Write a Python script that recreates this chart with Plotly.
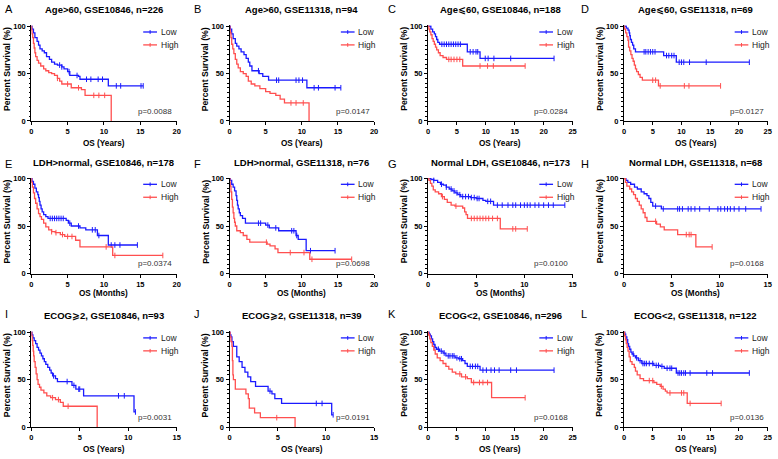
import plotly.graph_objects as go

W, H = 778, 459

# ---------------- data (times, survival %, censor times) ----------------
A_low_t = [0, 0.1, 0.3, 0.5, 0.8, 1.0, 1.2, 1.5, 1.8, 2.1, 2.5, 2.8, 3.2, 3.6, 4.2, 4.5, 5.0, 5.3, 6.5, 6.7, 10.6, 15.4]
A_low_s = [100, 97, 93, 88, 84, 80, 76, 74, 72, 68, 65, 62, 60, 59, 57, 55, 52, 48, 47, 44, 37, 37]
A_low_c = [3.9, 4.2, 5.2, 6.3, 7.6, 8.2, 9.2, 9.8, 11.7, 12.3, 15.1, 15.4]
A_high_t = [0, 0.05, 0.1, 0.2, 0.3, 0.4, 0.5, 0.6, 0.8, 1.0, 1.3, 1.7, 2.0, 2.4, 2.8, 3.2, 3.6, 3.9, 4.2, 5.5, 6.9, 7.4, 11.0]
A_high_s = [100, 96, 92, 88, 82, 77, 72, 68, 64, 61, 58, 55, 53, 51, 50, 48, 45, 42, 39, 35, 33, 27, 0]
A_high_c = [3.6, 5.0, 6.5, 8.6, 9.3, 10.1]

B_low_t = [0, 0.1, 0.3, 0.5, 0.8, 1.0, 1.3, 1.6, 2.0, 2.3, 2.6, 2.8, 3.1, 4.1, 4.6, 5.4, 10.7, 15.4]
B_low_s = [100, 97, 92, 87, 82, 79, 76, 73, 70, 66, 62, 58, 53, 50, 47, 43, 35, 35]
B_low_c = [4.0, 6.5, 6.8, 9.2, 9.6, 10.1, 11.7, 12.3, 14.6, 15.4]
B_high_t = [0, 0.05, 0.1, 0.2, 0.3, 0.45, 0.6, 0.8, 1.0, 1.2, 1.5, 1.9, 2.3, 2.6, 3.0, 3.5, 4.2, 5.0, 5.6, 6.4, 7.0, 7.6, 11.0]
B_high_s = [100, 96, 93, 88, 81, 76, 71, 65, 60, 56, 52, 50, 47, 42, 39, 37, 34, 31, 29, 27, 23, 19, 0]
B_high_c = [8.5, 9.2, 10.2]

C_low_t = [0, 0.5, 0.8, 1.1, 1.3, 1.5, 1.7, 2.0, 6.8, 9.0, 21.8]
C_low_s = [100, 97, 94, 92, 89, 86, 83, 81, 73, 66, 66]
C_low_c = [2.4, 2.8, 3.2, 3.6, 4.0, 4.4, 4.8, 5.2, 5.6, 7.3, 7.8, 8.3, 8.6, 9.9, 10.4, 11.4, 14.3, 21.8]
C_high_t = [0, 0.15, 0.3, 0.5, 0.7, 0.9, 1.1, 1.3, 1.5, 1.8, 2.1, 2.6, 3.2, 6.0, 16.8]
C_high_s = [100, 97, 94, 91, 87, 84, 81, 78, 75, 72, 69, 67, 65, 58, 58]
C_high_c = [3.6, 4.0, 4.5, 5.0, 5.5, 9.0, 10.3, 11.3, 16.8]

D_low_t = [0, 0.4, 0.7, 0.9, 1.0, 1.1, 1.3, 1.5, 1.7, 2.0, 6.9, 9.1, 21.8]
D_low_s = [100, 98, 96, 93, 90, 86, 83, 80, 76, 73, 69, 62, 62]
D_low_c = [3.5, 3.8, 4.2, 4.6, 5.0, 5.4, 7.4, 7.8, 8.3, 8.7, 9.6, 10.0, 10.4, 11.4, 14.3, 21.8]
D_high_t = [0, 0.1, 0.3, 0.5, 0.7, 0.8, 1.0, 1.2, 1.4, 1.6, 1.8, 2.0, 2.2, 2.5, 2.8, 3.2, 6.0, 16.8]
D_high_s = [100, 97, 93, 89, 85, 78, 74, 70, 66, 63, 59, 55, 52, 49, 46, 43, 37, 37]
D_high_c = [5.0, 5.5, 6.3, 10.5, 11.3, 16.8]

E_low_t = [0, 0.1, 0.3, 0.5, 0.7, 0.9, 1.0, 1.1, 1.2, 1.35, 1.5, 1.7, 2.0, 2.3, 4.8, 5.1, 5.5, 6.7, 7.5, 9.1, 10.6, 14.6]
E_low_s = [100, 97, 94, 90, 86, 83, 80, 76, 72, 68, 65, 62, 60, 58, 56, 53, 50, 48, 46, 40, 30, 30]
E_low_c = [2.6, 2.9, 3.2, 3.5, 3.8, 4.1, 4.4, 5.3, 6.5, 8.4, 8.8, 9.3, 11.0, 11.5, 12.2, 14.6]
E_high_t = [0, 0.05, 0.15, 0.3, 0.45, 0.6, 0.8, 1.0, 1.2, 1.4, 1.7, 2.0, 2.4, 2.8, 3.3, 4.0, 4.6, 6.1, 6.7, 11.2, 18.1]
E_high_s = [100, 96, 91, 85, 79, 74, 68, 63, 60, 57, 53, 49, 46, 44, 43, 41, 39, 35, 28, 19, 19]
E_high_c = [2.8, 3.4, 4.3, 5.0, 5.6, 10.3, 11.5, 18.1]

F_low_t = [0, 0.1, 0.3, 0.5, 0.7, 0.9, 1.0, 1.1, 1.2, 1.35, 1.5, 1.8, 2.2, 5.0, 5.5, 6.8, 9.2, 9.5, 10.6, 14.6]
F_low_s = [100, 98, 94, 91, 87, 82, 77, 72, 68, 64, 61, 58, 53, 51, 48, 45, 40, 36, 24, 24]
F_low_c = [4.0, 4.3, 5.3, 6.4, 8.6, 8.9, 9.3, 11.2, 14.6]
F_high_t = [0, 0.05, 0.1, 0.2, 0.3, 0.4, 0.5, 0.6, 0.7, 0.8, 1.0, 1.5, 1.9, 2.4, 2.8, 5.2, 5.6, 6.3, 6.7, 11.1, 16.9]
F_high_s = [100, 96, 92, 86, 78, 70, 64, 58, 54, 50, 45, 43, 40, 36, 33, 31, 29, 26, 22, 15, 15]
F_high_c = [5.1, 8.4, 10.3, 11.4, 16.9]

G_low_t = [0, 0.3, 0.6, 1.0, 1.3, 1.6, 1.9, 2.2, 2.5, 2.8, 3.1, 3.4, 4.4, 5.0, 5.7, 6.0, 6.8, 14.2]
G_low_s = [100, 99, 98, 96, 94, 93, 91, 89, 87, 85, 83, 81, 80, 79, 77, 76, 72, 72]
G_low_c = [0.6, 1.4, 1.9, 2.4, 2.7, 3.0, 3.3, 3.6, 3.9, 4.2, 4.5, 4.8, 5.1, 5.3, 6.2, 6.5, 7.2, 7.7, 8.3,
           8.8, 9.1, 9.6, 10.0, 10.3, 10.6, 11.1, 11.5, 12.0, 12.5, 13.0, 14.2]
G_high_t = [0, 0.1, 0.25, 0.4, 0.55, 0.75, 1.1, 1.4, 1.7, 2.0, 2.4, 2.8, 3.6, 3.8, 3.95, 4.1, 7.5, 10.3]
G_high_s = [100, 98, 95, 92, 88, 86, 84, 81, 78, 75, 72, 71, 69, 65, 62, 58, 47, 47]
G_high_c = [1.5, 2.9, 4.5, 4.8, 5.1, 5.4, 5.7, 6.0, 6.3, 6.7, 7.2, 8.8, 9.1, 10.3]

H_low_t = [0, 0.2, 0.4, 0.7, 1.1, 1.4, 1.8, 2.1, 2.4, 2.6, 2.8, 3.0, 3.9, 14.3]
H_low_s = [100, 98, 96, 94, 91, 89, 86, 84, 82, 79, 75, 71, 68, 68]
H_low_c = [3.3, 4.1, 5.6, 5.8, 6.1, 6.7, 7.0, 7.4, 7.9, 8.9, 9.8, 10.1, 10.5, 10.8, 11.1, 11.5, 12.0, 12.7, 14.3]
H_high_t = [0, 0.15, 0.3, 0.6, 0.8, 1.0, 1.2, 1.4, 1.6, 1.8, 2.0, 2.2, 2.4, 3.4, 3.8, 4.2, 5.6, 7.5, 9.2]
H_high_s = [100, 96, 92, 89, 86, 83, 79, 76, 72, 68, 64, 59, 55, 52, 49, 46, 41, 28, 28]
H_high_c = [3.3, 6.5, 6.8, 7.0, 9.2]

I_low_t = [0, 0.07, 0.17, 0.3, 0.45, 0.6, 0.75, 0.9, 1.05, 1.2, 1.35, 1.5, 1.7, 1.9, 2.05, 2.2, 2.5, 2.7, 4.2, 4.6, 5.4, 10.6, 10.75]
I_low_s = [100, 97, 94, 91, 88, 84, 81, 78, 75, 72, 69, 66, 63, 60, 57, 54, 51, 48, 44, 40, 33, 16, 16]
I_low_c = [2.3, 3.7, 4.4, 4.9, 5.0, 9.0, 9.6, 10.75]
I_high_t = [0, 0.05, 0.1, 0.15, 0.2, 0.25, 0.3, 0.4, 0.5, 0.6, 0.7, 0.85, 1.0, 1.3, 1.6, 2.0, 2.5, 3.0, 3.3, 6.8]
I_high_s = [100, 96, 91, 86, 80, 75, 69, 63, 56, 50, 45, 42, 39, 36, 33, 31, 29, 26, 22, 0]
I_high_c = [2.2, 2.8, 3.8]

J_low_t = [0, 0.05, 0.15, 0.25, 0.4, 0.75, 1.0, 1.3, 1.6, 1.9, 2.2, 2.7, 4.0, 4.4, 4.7, 5.4, 10.6, 10.75]
J_low_s = [100, 97, 95, 90, 85, 74, 69, 63, 58, 53, 48, 43, 38, 35, 30, 25, 13, 13]
J_low_c = [4.2, 9.0, 9.6, 10.75]
J_high_t = [0, 0.05, 0.15, 0.25, 0.3, 0.35, 0.4, 0.6, 1.7, 1.95, 2.05, 2.6, 3.2, 6.8]
J_high_s = [100, 95, 90, 85, 70, 55, 50, 40, 35, 30, 20, 15, 10, 0]
J_high_c = [4.9]

K_low_t = [0, 0.2, 0.4, 0.6, 0.8, 1.0, 1.2, 1.5, 2.0, 2.6, 3.1, 4.7, 5.3, 6.0, 6.4, 6.8, 9.0, 21.8]
K_low_s = [100, 98, 96, 93, 90, 87, 84, 82, 80, 78, 75, 73, 72, 70, 67, 64, 60, 60]
K_low_c = [1.2, 1.8, 2.3, 2.8, 3.5, 3.8, 4.2, 4.5, 5.0, 5.5, 5.8, 7.3, 7.7, 8.2, 8.6, 9.5, 10.1, 10.9,
           11.5, 12.3, 14.3, 15.3, 21.8]
K_high_t = [0, 0.1, 0.3, 0.5, 0.75, 1.0, 1.25, 1.6, 2.1, 2.6, 3.1, 3.6, 4.2, 4.8, 5.8, 6.8, 7.5, 11.0, 16.8]
K_high_s = [100, 97, 93, 89, 85, 81, 77, 73, 70, 67, 64, 61, 58, 56, 53, 51, 47, 31, 31]
K_high_c = [5.5, 6.5, 7.9, 8.9, 9.5, 10.3, 16.8]

L_low_t = [0, 0.15, 0.3, 0.5, 0.65, 0.8, 1.0, 1.2, 1.4, 1.7, 2.0, 2.5, 3.1, 5.2, 6.3, 7.0, 9.1, 21.8]
L_low_s = [100, 98, 95, 92, 88, 85, 82, 79, 77, 75, 73, 70, 67, 65, 64, 62, 57, 57]
L_low_c = [1.6, 2.2, 2.8, 3.3, 3.6, 3.9, 4.4, 5.0, 5.6, 6.0, 6.6, 7.5, 8.0, 8.3, 9.4, 9.7, 10.0, 10.4,
           10.7, 11.5, 14.4, 15.4, 21.8]
L_high_t = [0, 0.1, 0.25, 0.4, 0.55, 0.7, 0.9, 1.1, 1.4, 1.8, 2.0, 2.3, 2.8, 3.4, 5.2, 5.7, 6.3, 6.8, 7.2, 7.5, 11.0, 16.9]
L_high_s = [100, 96, 92, 88, 84, 80, 74, 69, 66, 63, 59, 55, 51, 49, 47, 45, 43, 40, 38, 36, 25, 25]
L_high_c = [4.4, 5.0, 6.5, 8.0, 10.0, 10.4, 11.5, 16.9]

letters = ["A", "B", "C", "D", "E", "F", "G", "H", "I", "J", "K", "L"]
titles = ["Age>60, GSE10846, n=226", "Age>60, GSE11318, n=94",
          "Age⩽60, GSE10846, n=188", "Age⩽60, GSE11318, n=69",
          "LDH>normal, GSE10846, n=178", "LDH>normal, GSE11318, n=76",
          "Normal LDH, GSE10846, n=173", "Normal LDH, GSE11318, n=68",
          "ECOG⩾2, GSE10846, n=93", "ECOG⩾2, GSE11318, n=39",
          "ECOG&lt;2, GSE10846, n=296", "ECOG&lt;2, GSE11318, n=122"]
pvals = ["p=0.0088", "p=0.0147", "p=0.0284", "p=0.0127",
         "p=0.0374", "p=0.0698", "p=0.0100", "p=0.0168",
         "p=0.0031", "p=0.0191", "p=0.0168", "p=0.0136"]
xlabels = ["OS (Years)"] * 4 + ["OS (Months)"] * 4 + ["OS (Years)"] * 4
xmax = [20, 20, 25, 25, 20, 20, 15, 15, 15, 15, 25, 25]
group_names = ["Low", "High"]

curves = {
    "A": [(A_low_t, A_low_s, A_low_c), (A_high_t, A_high_s, A_high_c)],
    "B": [(B_low_t, B_low_s, B_low_c), (B_high_t, B_high_s, B_high_c)],
    "C": [(C_low_t, C_low_s, C_low_c), (C_high_t, C_high_s, C_high_c)],
    "D": [(D_low_t, D_low_s, D_low_c), (D_high_t, D_high_s, D_high_c)],
    "E": [(E_low_t, E_low_s, E_low_c), (E_high_t, E_high_s, E_high_c)],
    "F": [(F_low_t, F_low_s, F_low_c), (F_high_t, F_high_s, F_high_c)],
    "G": [(G_low_t, G_low_s, G_low_c), (G_high_t, G_high_s, G_high_c)],
    "H": [(H_low_t, H_low_s, H_low_c), (H_high_t, H_high_s, H_high_c)],
    "I": [(I_low_t, I_low_s, I_low_c), (I_high_t, I_high_s, I_high_c)],
    "J": [(J_low_t, J_low_s, J_low_c), (J_high_t, J_high_s, J_high_c)],
    "K": [(K_low_t, K_low_s, K_low_c), (K_high_t, K_high_s, K_high_c)],
    "L": [(L_low_t, L_low_s, L_low_c), (L_high_t, L_high_s, L_high_c)],
}

# ---------------- style / layout geometry ----------------
COLORS = ["#1a1aff", "#ff4f4f"]
FONT = "Arial, Liberation Sans, DejaVu Sans, sans-serif"
col_left = [29.5, 229.3, 429.3, 626.8]
col_right = [176.0, 375.0, 575.0, 771.7]
row_top = [22.7, 177.7, 334.0]
row_bot = [120.0, 275.3, 431.7]
letter_x = [1, 191, 387, 581]
letter_y = [6, 164, 317]
title_y = [7, 162.5, 318]
xtitle_y = [142.7, 296, 454]


def px_x(p):
    return p / W


def px_y(p):
    return 1 - p / H


def surv_at(ts, ss, tc):
    val = ss[0]
    for t, s in zip(ts, ss):
        if t <= tc:
            val = s
    return val


fig = go.Figure()
annotations = []
shapes = []
layout_axes = {}

for i, L in enumerate(letters):
    r, c = divmod(i, 4)
    n = i + 1
    xa = "x" if n == 1 else f"x{n}"
    ya = "y" if n == 1 else f"y{n}"
    xkey = "xaxis" if n == 1 else f"xaxis{n}"
    ykey = "yaxis" if n == 1 else f"yaxis{n}"

    for g, (ts, ss, cs) in enumerate(curves[L]):
        col = COLORS[g]
        fig.add_trace(go.Scatter(x=ts, y=ss, mode="lines", line=dict(color=col, width=1.3, shape="hv"),
                                 xaxis=xa, yaxis=ya, showlegend=False, hoverinfo="skip"))
        fig.add_trace(go.Scatter(x=cs, y=[surv_at(ts, ss, t) for t in cs], mode="markers",
                                 marker=dict(symbol="line-ns", size=4, line=dict(color=col, width=1)),
                                 xaxis=xa, yaxis=ya, showlegend=False, cliponaxis=False, hoverinfo="skip"))

    layout_axes[xkey] = dict(
        domain=[px_x(col_left[c]), px_x(col_right[c])], anchor=ya, range=[0, xmax[i]], dtick=5,
        showline=True, linecolor="black", linewidth=1, ticks="outside", ticklen=3, tickwidth=1,
        tickcolor="black", showgrid=False, zeroline=False,
        tickfont=dict(family=FONT, size=7.5, color="black", weight="bold"))
    layout_axes[ykey] = dict(
        domain=[px_y(row_bot[r]), px_y(row_top[r])], anchor=xa, range=[0, 101],
        tickvals=[0, 50, 100],
        showline=True, linecolor="black", linewidth=1, ticks="outside", ticklen=3, tickwidth=1,
        tickcolor="black", showgrid=False, zeroline=False,
        minor=dict(ticks="outside", ticklen=1.5, tickwidth=1, tickcolor="black", dtick=5),
        tickfont=dict(family=FONT, size=7.5, color="black", weight="bold"))

    xd = f"{xa} domain"
    yd = f"{ya} domain"
    # panel letter
    annotations.append(dict(text=L, x=px_x(letter_x[c]), y=px_y(letter_y[r]), xref="paper", yref="paper",
                            xanchor="left", yanchor="middle", showarrow=False,
                            font=dict(family=FONT, size=11, color="black")))
    # title
    annotations.append(dict(text=f"<b>{titles[i]}</b>", x=0.5, y=px_y(title_y[r]), xref=xd, yref="paper",
                            xanchor="center", yanchor="middle", showarrow=False,
                            font=dict(family=FONT, size=9.5, color="black")))
    # x title
    annotations.append(dict(text=f"<b>{xlabels[i]}</b>", x=0.5, y=px_y(xtitle_y[r]), xref=xd, yref="paper",
                            xanchor="center", yanchor="middle", showarrow=False,
                            font=dict(family=FONT, size=8.2, color="black")))
    # y title
    annotations.append(dict(text="<b>Percent Survival (%)</b>", x=px_x(col_left[c] - 24.5), y=0.5,
                            xref="paper", yref=yd, xanchor="center", yanchor="middle", textangle=-90,
                            yshift=4, showarrow=False, font=dict(family=FONT, size=8.7, color="black")))
    # p value
    annotations.append(dict(text=pvals[i], x=0.985, y=0.1, xref=xd, yref=yd, xanchor="right",
                            yanchor="middle", showarrow=False, font=dict(family=FONT, size=8, color="#333333")))
    # legend
    for g, gy in enumerate([0.93, 0.795]):
        col = COLORS[g]
        shapes.append(dict(type="line", xref=xd, yref=yd, x0=0.77, x1=0.865, y0=gy, y1=gy,
                           line=dict(color=col, width=1.3)))
        shapes.append(dict(type="line", xref=xd, yref=yd, x0=0.8175, x1=0.8175, y0=gy - 0.02, y1=gy + 0.02,
                           line=dict(color=col, width=1)))
        annotations.append(dict(text=group_names[g], x=0.878, y=gy, xref=xd, yref=yd, xanchor="left",
                                yanchor="middle", showarrow=False,
                                font=dict(family=FONT, size=8.5, color="#222222")))

fig.update_layout(
    width=W, height=H, margin=dict(l=0, r=0, t=0, b=0),
    paper_bgcolor="white", plot_bgcolor="white", showlegend=False,
    annotations=annotations, shapes=shapes, **layout_axes)

fig.write_html("out.html", config={"displayModeBar": False},
               post_script="document.body.style.margin='0px';document.body.style.overflow='hidden';")
